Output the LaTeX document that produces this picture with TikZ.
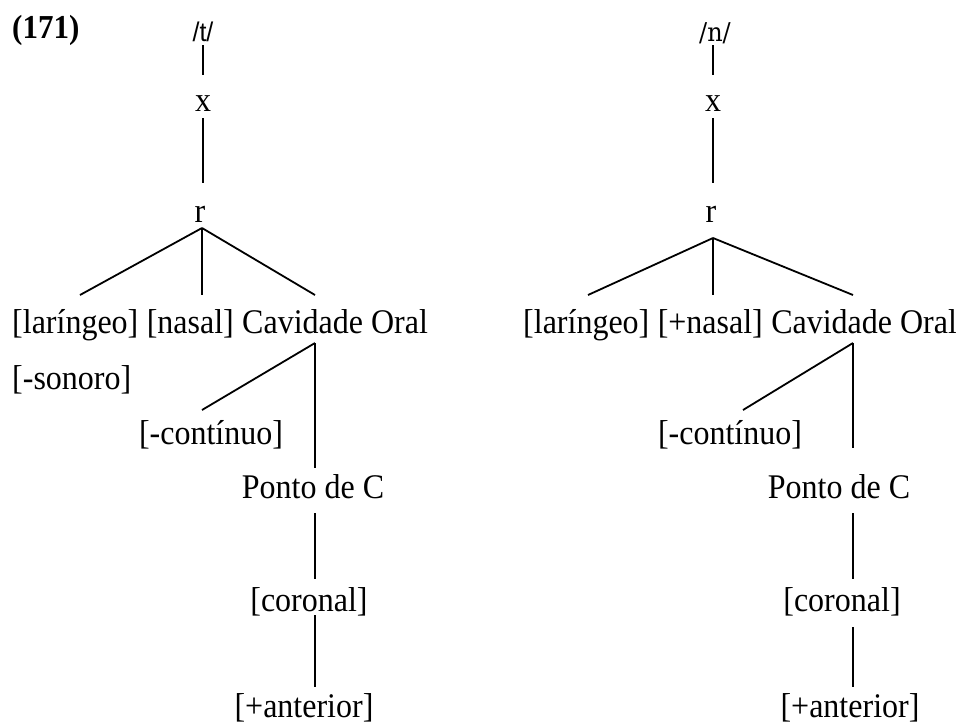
\documentclass[tikz,border=0pt]{standalone}
\usepackage{graphicx}
\usepackage{fontspec}
\setmainfont{Liberation Serif}
\newfontfamily\tsansfont{Liberation Sans}
\newfontfamily\nseriffont{DejaVu Serif}
\usetikzlibrary{calc}
\newcommand\talltxt[1]{\scalebox{1}[1.08]{#1}}
\begin{document}
\begin{tikzpicture}[x=1pt,y=-1pt,
  lbl/.style={inner sep=0pt, font=\fontsize{32}{38}\selectfont},
  rowlbl/.style={lbl, anchor=base west},
  edge/.style={line width=1.8pt}]
\useasboundingbox (0,0) rectangle (956,724);
\node[lbl, anchor=west, font=\fontsize{31}{37}\selectfont\bfseries] (num) at (12,30) {\talltxt{(171)}};

% ---------------- left tree ----------------
\node[lbl, font=\tsansfont\fontsize{25}{30}\selectfont] (t) at (203,32) {\talltxt{/t/}};
\node[lbl] (x1) at (203,104) {\talltxt{x}};
\node[lbl] (r1) at (200,214) {\talltxt{r}};
\node[rowlbl] (lar1) at (12,333) {\talltxt{[laríngeo]}};
\node[rowlbl] (nas1) at ($(lar1.base east)+(8,0)$) {\talltxt{[nasal]}};
\node[rowlbl] (co1) at ($(nas1.base east)+(8,0)$) {\talltxt{Cavidade Oral}};
\node[rowlbl] (son1) at (12,389) {\talltxt{[-sonoro]}};
\node[lbl, anchor=base] (cont1) at (211,444) {\talltxt{[-contínuo]}};
\node[lbl, anchor=base] (pc1) at (313,498) {\talltxt{Ponto de C}};
\node[lbl, anchor=base] (cor1) at (309,611) {\talltxt{[coronal]}};
\node[lbl, anchor=base] (ant1) at (304,717) {\talltxt{[+anterior]}};

\coordinate (t-bot) at (203,45);
\coordinate (x1-top) at (203,75);
\coordinate (x1-bot) at (203,118);
\coordinate (r1-top) at (203,183);
\coordinate (r1-apex) at (202,228);
\coordinate (lar1-top) at (80,295);
\coordinate (nas1-top) at (202,295);
\coordinate (co1-top) at (315,295);
\coordinate (co1-apex) at (315,343);
\coordinate (cont1-top) at (202,410);
\coordinate (pc1-top) at (315,468);
\coordinate (pc1-bot) at (315,513);
\coordinate (cor1-top) at (315,579);
\coordinate (cor1-bot) at (315,615);
\coordinate (ant1-top) at (315,687);

\draw[edge] (t-bot) -- (x1-top);
\draw[edge] (x1-bot) -- (r1-top);
\draw[edge] (r1-apex) -- (lar1-top);
\draw[edge] (r1-apex) -- (nas1-top);
\draw[edge] (r1-apex) -- (co1-top);
\draw[edge] (co1-apex) -- (cont1-top);
\draw[edge] (co1-apex) -- (pc1-top);
\draw[edge] (pc1-bot) -- (cor1-top);
\draw[edge] (cor1-bot) -- (ant1-top);

% ---------------- right tree ----------------
\node[lbl, font=\nseriffont\fontsize{24}{29}\selectfont] (n) at (715,33) {\talltxt{/n/}};
\node[lbl] (x2) at (713,104) {\talltxt{x}};
\node[lbl] (r2) at (711,214) {\talltxt{r}};
\node[rowlbl] (lar2) at (523,333) {\talltxt{[laríngeo]}};
\node[rowlbl] (nas2) at ($(lar2.base east)+(8,0)$) {\talltxt{[+nasal]}};
\node[rowlbl] (co2) at ($(nas2.base east)+(8,0)$) {\talltxt{Cavidade Oral}};
\node[lbl, anchor=base] (cont2) at (730,444) {\talltxt{[-contínuo]}};
\node[lbl, anchor=base] (pc2) at (839,498) {\talltxt{Ponto de C}};
\node[lbl, anchor=base] (cor2) at (842,611) {\talltxt{[coronal]}};
\node[lbl, anchor=base] (ant2) at (850,717) {\talltxt{[+anterior]}};

\coordinate (n-bot) at (713,45);
\coordinate (x2-top) at (713,75);
\coordinate (x2-bot) at (713,118);
\coordinate (r2-top) at (713,183);
\coordinate (r2-apex) at (713,238);
\coordinate (lar2-top) at (588,295);
\coordinate (nas2-top) at (713,295);
\coordinate (co2-top) at (853,295);
\coordinate (co2-apex) at (853,343);
\coordinate (cont2-top) at (743,410);
\coordinate (pc2-top) at (853,448);
\coordinate (pc2-bot) at (853,513);
\coordinate (cor2-top) at (853,579);
\coordinate (cor2-bot) at (853,627);
\coordinate (ant2-top) at (853,687);

\draw[edge] (n-bot) -- (x2-top);
\draw[edge] (x2-bot) -- (r2-top);
\draw[edge] (r2-apex) -- (lar2-top);
\draw[edge] (r2-apex) -- (nas2-top);
\draw[edge] (r2-apex) -- (co2-top);
\draw[edge] (co2-apex) -- (cont2-top);
\draw[edge] (co2-apex) -- (pc2-top);
\draw[edge] (pc2-bot) -- (cor2-top);
\draw[edge] (cor2-bot) -- (ant2-top);
\end{tikzpicture}
\end{document}
